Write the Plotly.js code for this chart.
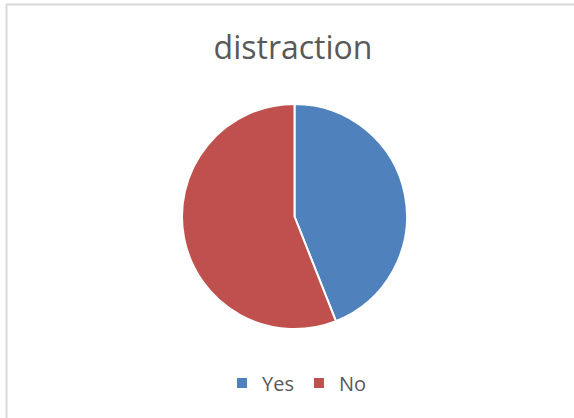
<!DOCTYPE html>
<html>
<head>
<meta charset="utf-8">
<script src="https://cdn.plot.ly/plotly-3.0.1.min.js"></script>
<style>
  html, body { margin: 0; padding: 0; background: #ffffff; }
  #chart { width: 574px; height: 418px; }
</style>
</head>
<body>
<div id="chart"></div>
<script>
const chartTitle = "distraction";
const categories = ["Yes", "No"];
const values = [44, 56];
const colors = ["#4F81BD", "#C0504D"];

const W = 574, H = 418;
const cx = 294.5, cy = 216.5, r = 112.5;

const trace = {
  type: "pie",
  labels: categories,
  values: values,
  sort: false,
  direction: "clockwise",
  rotation: 0,
  textinfo: "none",
  hoverinfo: "label+value+percent",
  marker: { colors: colors, line: { color: "#ffffff", width: 2 } },
  domain: {
    x: [(cx - r) / W, (cx + r) / W],
    y: [1 - (cy + r) / H, 1 - (cy - r) / H]
  }
};

const layout = {
  width: W,
  height: H,
  margin: { l: 0, r: 0, t: 0, b: 0 },
  paper_bgcolor: "#ffffff",
  font: { family: "Open Sans, sans-serif", color: "#595959" },
  title: {
    text: chartTitle,
    font: { family: "Open Sans, sans-serif", size: 32, color: "#595959" },
    x: 293 / W, xanchor: "center",
    y: 1 - 48 / H, yanchor: "middle",
    xref: "paper", yref: "paper"
  },
  showlegend: true,
  legend: {
    orientation: "h",
    x: 297 / W, xanchor: "center",
    y: 1 - 383 / H, yanchor: "middle",
    font: { family: "Open Sans, sans-serif", size: 20, color: "#595959" },
    itemwidth: 30,
    bgcolor: "rgba(0,0,0,0)",
    borderwidth: 0
  },
  shapes: [
    { type: "line", xref: "paper", yref: "paper",
      x0: 6 / W, x1: 1, y0: 1 - 4.5 / H, y1: 1 - 4.5 / H,
      line: { color: "#d9d9d9", width: 2 } },
    { type: "line", xref: "paper", yref: "paper",
      x0: 6.5 / W, x1: 6.5 / W, y0: 0, y1: 1 - 4 / H,
      line: { color: "#d9d9d9", width: 2 } }
  ]
};

Plotly.newPlot("chart", [trace], layout, { displayModeBar: false, staticPlot: true });
</script>
</body>
</html>
